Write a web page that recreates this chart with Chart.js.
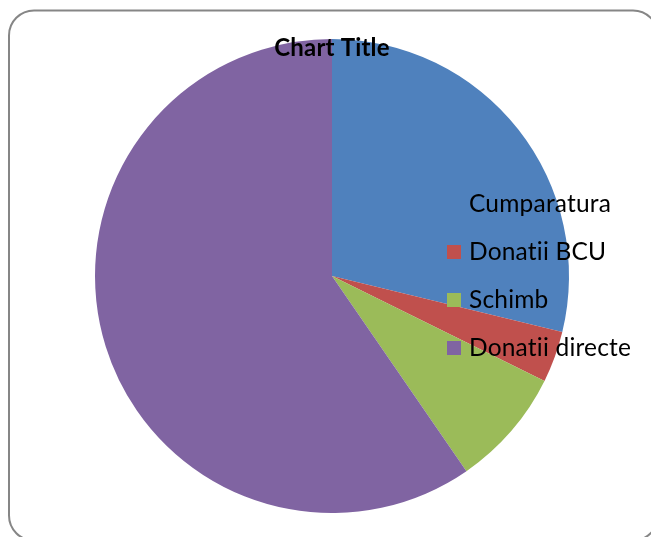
<!DOCTYPE html>
<html>
<head>
<meta charset="utf-8">
<script src="https://cdn.jsdelivr.net/npm/chart.js@4/dist/chart.umd.min.js"></script>
<style>
  html, body { margin: 0; padding: 0; background: #ffffff; }
  #wrap { position: relative; width: 651px; height: 537px; }
</style>
</head>
<body>
<div id="wrap"><canvas id="c" width="651" height="537"></canvas></div>
<script>
const titleText = "Chart Title";
const categories = ["Cumparatura", "Donatii BCU", "Schimb", "Donatii directe"];
const values = [28.8, 3.5, 8.1, 59.6];
const colors = ["#4F81BD", "#C0504D", "#9BBB59", "#8064A2"];

const FONT = "Lato, 'Open Sans', sans-serif";

const framePlugin = {
  id: 'frame',
  beforeDraw(chart) {
    const ctx = chart.ctx;
    ctx.save();
    ctx.fillStyle = '#ffffff';
    ctx.fillRect(0, 0, chart.width, chart.height);
    const x = 9, y = 10.5, w = 649, h = 530, r = 25;
    ctx.beginPath();
    ctx.moveTo(x + r, y);
    ctx.lineTo(x + w - r, y);
    ctx.arcTo(x + w, y, x + w, y + r, r);
    ctx.lineTo(x + w, y + h - r);
    ctx.arcTo(x + w, y + h, x + w - r, y + h, r);
    ctx.lineTo(x + r, y + h);
    ctx.arcTo(x, y + h, x, y + h - r, r);
    ctx.lineTo(x, y + r);
    ctx.arcTo(x, y, x + r, y, r);
    ctx.closePath();
    ctx.strokeStyle = '#868686';
    ctx.lineWidth = 2;
    ctx.stroke();
    ctx.restore();
  }
};

const overlayPlugin = {
  id: 'overlay',
  afterDraw(chart) {
    const ctx = chart.ctx;
    ctx.save();
    if ('letterSpacing' in ctx) ctx.letterSpacing = '0.2px';
    // title
    ctx.fillStyle = '#000000';
    ctx.font = "bold 24px " + FONT;
    ctx.textAlign = 'center';
    ctx.textBaseline = 'middle';
    ctx.fillText(titleText, 332, 48);
    // legend
    ctx.font = "24.5px " + FONT;
    ctx.textAlign = 'left';
    const x0 = 447, tx = 469, y0 = 204, dy = 48, sz = 14;
    categories.forEach((lab, i) => {
      const yc = y0 + i * dy;
      ctx.fillStyle = colors[i];
      ctx.fillRect(x0, yc - sz / 2, sz, sz);
      ctx.fillStyle = '#000000';
      ctx.fillText(lab, tx, yc);
    });
    ctx.restore();
  }
};

new Chart(document.getElementById('c'), {
  type: 'pie',
  data: {
    labels: categories,
    datasets: [{
      data: values,
      backgroundColor: colors,
      borderWidth: 0
    }]
  },
  options: {
    responsive: false,
    animation: false,
    layout: { padding: { left: 95, right: 82, top: 39, bottom: 24 } },
    plugins: {
      legend: { display: false },
      title: { display: false },
      tooltip: { enabled: false }
    }
  },
  plugins: [framePlugin, overlayPlugin]
});
</script>
</body>
</html>
